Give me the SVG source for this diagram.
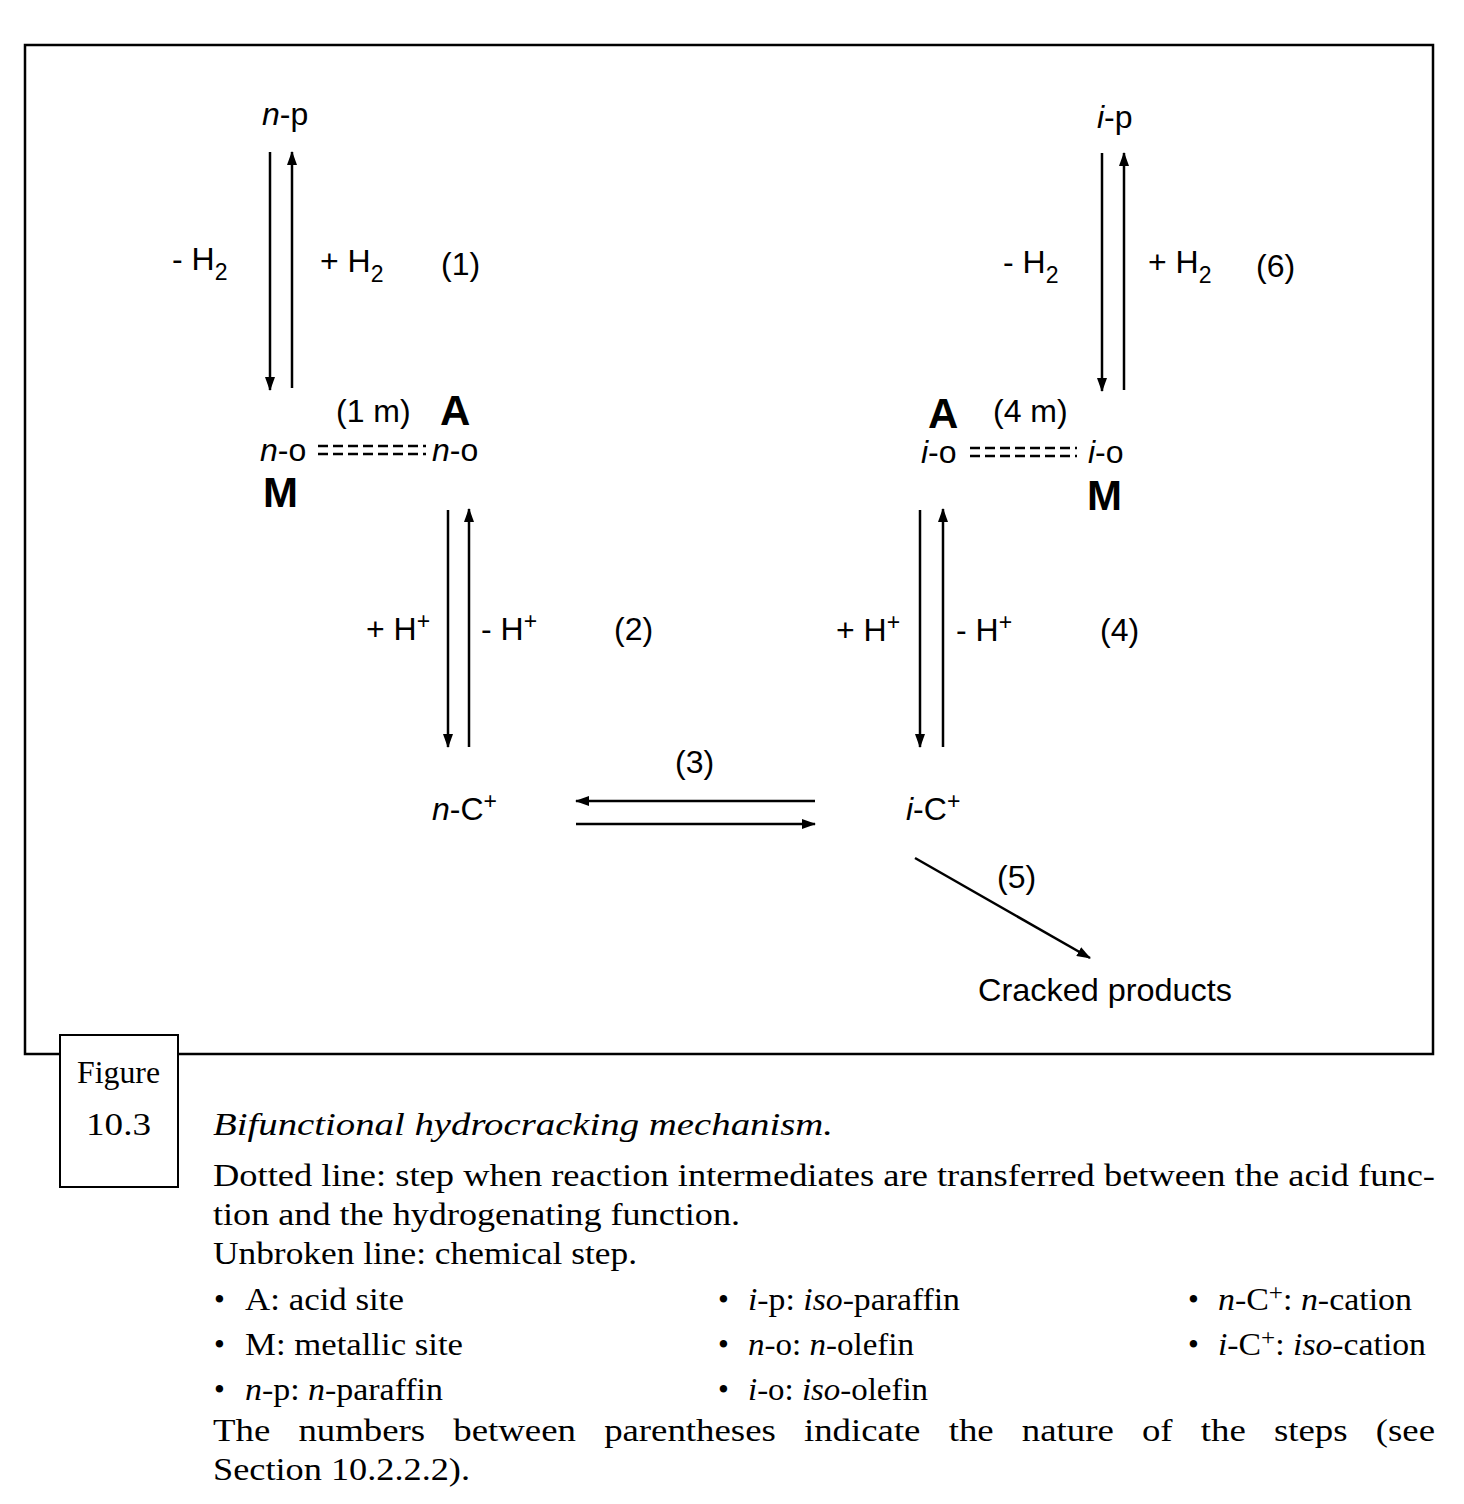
<svg xmlns="http://www.w3.org/2000/svg" width="1464" height="1504" viewBox="0 0 1464 1504">
<style>
.s{font-family:"Liberation Sans",Arial,sans-serif;font-size:32px;fill:#000}
.b{font-family:"Liberation Sans",Arial,sans-serif;font-size:42px;font-weight:bold;fill:#000}
.c{font-family:"Liberation Serif","Times New Roman",serif;font-size:31px;fill:#000}
.i{font-style:italic}
.sup{font-size:23px}
.ln{stroke:#000;stroke-width:2.5;fill:none}
.dash{stroke:#000;stroke-width:2.5;stroke-dasharray:10 5;fill:none}
</style>
<defs>
<marker id="ah" viewBox="0 0 14 10" refX="13" refY="5" markerWidth="14" markerHeight="10" markerUnits="userSpaceOnUse" orient="auto">
<path d="M0,0 L14,5 L0,10 Z" fill="#000"/>
</marker>
</defs>
<rect x="0" y="0" width="1464" height="1504" fill="#fff"/>
<rect id="frame" x="25" y="45" width="1408" height="1009" fill="none" stroke="#000" stroke-width="2.5"/>

<g id="connectors">
<line class="ln" x1="270" y1="152" x2="270" y2="390" marker-end="url(#ah)"/>
<line class="ln" x1="292" y1="388" x2="292" y2="152" marker-end="url(#ah)"/>
<line class="ln" x1="448" y1="510" x2="448" y2="747" marker-end="url(#ah)"/>
<line class="ln" x1="469" y1="747" x2="469" y2="509" marker-end="url(#ah)"/>
<line class="ln" x1="920" y1="510" x2="920" y2="747" marker-end="url(#ah)"/>
<line class="ln" x1="943" y1="747" x2="943" y2="509" marker-end="url(#ah)"/>
<line class="ln" x1="1102" y1="153" x2="1102" y2="391" marker-end="url(#ah)"/>
<line class="ln" x1="1124" y1="390" x2="1124" y2="153" marker-end="url(#ah)"/>
<line class="ln" x1="815" y1="801" x2="576" y2="801" marker-end="url(#ah)"/>
<line class="ln" x1="576" y1="824" x2="815" y2="824" marker-end="url(#ah)"/>
<line class="ln" x1="915" y1="858" x2="1090" y2="958" marker-end="url(#ah)"/>
<line class="dash" x1="318" y1="446" x2="426" y2="446"/>
<line class="dash" x1="318" y1="454" x2="426" y2="454"/>
<line class="dash" x1="970" y1="448" x2="1077" y2="448"/>
<line class="dash" x1="970" y1="456" x2="1077" y2="456"/>
</g>

<g id="np"><text class="s" x="262" y="125"><tspan class="i">n</tspan>-p</text></g>
<g id="ip"><text class="s" x="1097" y="128"><tspan class="i">i</tspan>-p</text></g>
<g id="step1">
<text class="s" x="172" y="270">-  H<tspan class="sup" dy="10">2</tspan></text>
<text class="s" x="320" y="272">+ H<tspan class="sup" dy="10">2</tspan></text>
<text class="s" x="441" y="275">(1)</text>
</g>
<g id="step6">
<text class="s" x="1003" y="273">-  H<tspan class="sup" dy="10">2</tspan></text>
<text class="s" x="1148" y="273">+ H<tspan class="sup" dy="10">2</tspan></text>
<text class="s" x="1256" y="277">(6)</text>
</g>
<g id="left-site">
<text class="s" x="336" y="422">(1 m)</text>
<text class="b" x="440" y="425">A</text>
<text class="s" x="260" y="461"><tspan class="i">n</tspan>-o</text>
<text class="s" x="432" y="461"><tspan class="i">n</tspan>-o</text>
<text class="b" x="263" y="507">M</text>
</g>
<g id="right-site">
<text class="b" x="928" y="428">A</text>
<text class="s" x="993" y="422">(4 m)</text>
<text class="s" x="921" y="463"><tspan class="i">i</tspan>-o</text>
<text class="s" x="1088" y="463"><tspan class="i">i</tspan>-o</text>
<text class="b" x="1087" y="510">M</text>
</g>
<g id="step2">
<text class="s" x="366" y="640">+ H<tspan class="sup" dy="-11">+</tspan></text>
<text class="s" x="481" y="640">-  H<tspan class="sup" dy="-11">+</tspan></text>
<text class="s" x="614" y="640">(2)</text>
</g>
<g id="step4">
<text class="s" x="836" y="641">+ H<tspan class="sup" dy="-11">+</tspan></text>
<text class="s" x="956" y="641">-  H<tspan class="sup" dy="-11">+</tspan></text>
<text class="s" x="1100" y="641">(4)</text>
</g>
<g id="nC"><text class="s" x="432" y="820"><tspan class="i">n</tspan>-C<tspan class="sup" dy="-11">+</tspan></text></g>
<g id="iC"><text class="s" x="906" y="820"><tspan class="i">i</tspan>-C<tspan class="sup" dy="-11">+</tspan></text></g>
<g id="step3"><text class="s" x="675" y="773">(3)</text></g>
<g id="step5"><text class="s" x="997" y="888">(5)</text></g>
<g id="cracked"><text class="s" x="978" y="1001" textLength="254" lengthAdjust="spacingAndGlyphs">Cracked products</text></g>

<g id="figbox">
<rect x="60" y="1035" width="118" height="152" fill="#fff" stroke="#000" stroke-width="2"/>
<text class="c" x="77" y="1083" textLength="83" lengthAdjust="spacingAndGlyphs">Figure</text>
<text class="c" x="86" y="1135" textLength="65" lengthAdjust="spacingAndGlyphs">10.3</text>
</g>

<g id="caption">
<text class="c i" x="213" y="1135" textLength="620" lengthAdjust="spacingAndGlyphs">Bifunctional hydrocracking mechanism.</text>
<text class="c" x="213" y="1186" textLength="1222" lengthAdjust="spacingAndGlyphs">Dotted line: step when reaction intermediates are transferred between the acid func-</text>
<text class="c" x="213" y="1225" textLength="527" lengthAdjust="spacingAndGlyphs">tion and the hydrogenating function.</text>
<text class="c" x="213" y="1264" textLength="424" lengthAdjust="spacingAndGlyphs">Unbroken line: chemical step.</text>

<text class="c" x="214" y="1310">•</text>
<text class="c" x="245" y="1310" textLength="159" lengthAdjust="spacingAndGlyphs">A: acid site</text>
<text class="c" x="214" y="1355">•</text>
<text class="c" x="245" y="1355" textLength="218" lengthAdjust="spacingAndGlyphs">M: metallic site</text>
<text class="c" x="214" y="1400">•</text>
<text class="c" x="245" y="1400" textLength="198" lengthAdjust="spacingAndGlyphs"><tspan class="i">n</tspan>-p: <tspan class="i">n</tspan>-paraffin</text>

<text class="c" x="718" y="1310">•</text>
<text class="c" x="748" y="1310" textLength="212" lengthAdjust="spacingAndGlyphs"><tspan class="i">i</tspan>-p: <tspan class="i">iso</tspan>-paraffin</text>
<text class="c" x="718" y="1355">•</text>
<text class="c" x="748" y="1355" textLength="166" lengthAdjust="spacingAndGlyphs"><tspan class="i">n</tspan>-o: <tspan class="i">n</tspan>-olefin</text>
<text class="c" x="718" y="1400">•</text>
<text class="c" x="748" y="1400" textLength="180" lengthAdjust="spacingAndGlyphs"><tspan class="i">i</tspan>-o: <tspan class="i">iso</tspan>-olefin</text>

<text class="c" x="1188" y="1310">•</text>
<text class="c" x="1218" y="1310" textLength="194" lengthAdjust="spacingAndGlyphs"><tspan class="i">n</tspan>-C<tspan class="sup" dy="-10">+</tspan><tspan dy="10">: </tspan><tspan class="i">n</tspan>-cation</text>
<text class="c" x="1188" y="1355">•</text>
<text class="c" x="1218" y="1355" textLength="208" lengthAdjust="spacingAndGlyphs"><tspan class="i">i</tspan>-C<tspan class="sup" dy="-10">+</tspan><tspan dy="10">: </tspan><tspan class="i">iso</tspan>-cation</text>

<text class="c" x="213" y="1441" word-spacing="16" textLength="1222" lengthAdjust="spacingAndGlyphs">The numbers between parentheses indicate the nature of the steps (see</text>
<text class="c" x="213" y="1480" textLength="257" lengthAdjust="spacingAndGlyphs">Section 10.2.2.2).</text>
</g>
</svg>
